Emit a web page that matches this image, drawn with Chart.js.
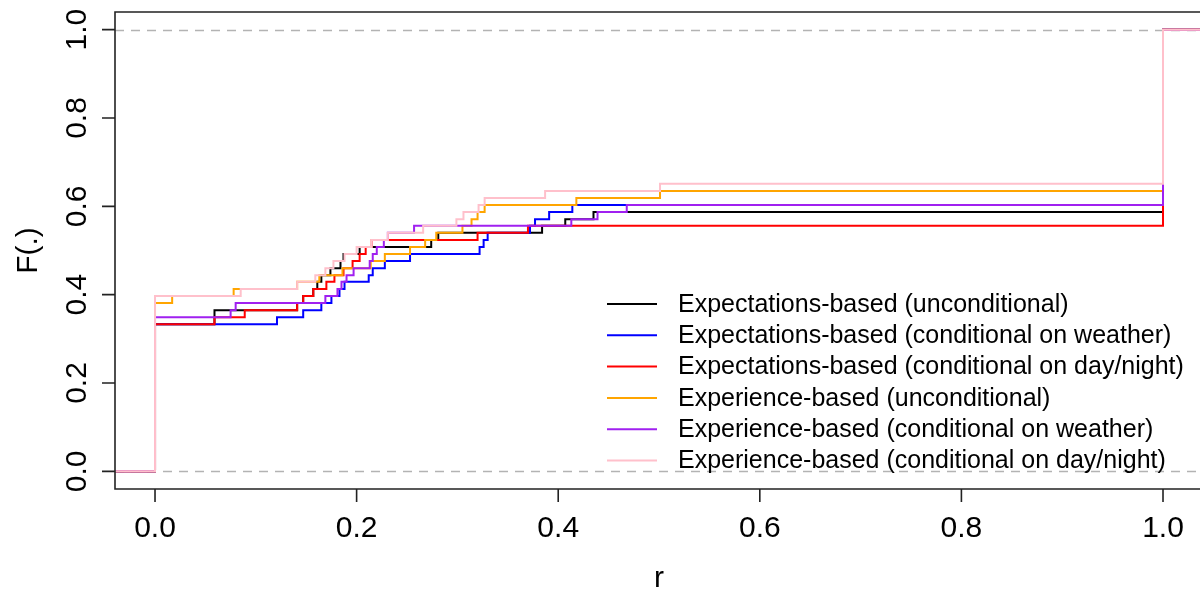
<!DOCTYPE html>
<html>
<head>
<meta charset="utf-8">
<script src="https://cdn.jsdelivr.net/npm/chart.js@4"></script>
<style>
  html, body { margin: 0; padding: 0; background: #fff; }
  #wrap { width: 1200px; height: 593px; }
</style>
</head>
<body>
<div id="wrap"><canvas id="ecdf" width="1200" height="593"></canvas></div>
<script>
// ECDFs of r, six groups. Each pair: jump locations / level reached there
var blackX = [0, 0.059, 0.141, 0.147, 0.157, 0.161, 0.165, 0.174, 0.184, 0.187, 0.203, 0.274, 0.281, 0.384, 0.407, 0.435, 1];
var blackY = [0.333, 0.365, 0.381, 0.397, 0.413, 0.429, 0.444, 0.460, 0.476, 0.492, 0.508, 0.524, 0.540, 0.556, 0.571, 0.587, 1];

var blueX = [0, 0.121, 0.147, 0.165, 0.175, 0.183, 0.188, 0.212, 0.216, 0.228, 0.253, 0.322, 0.326, 0.330, 0.372, 0.377, 0.391, 0.414, 1];
var blueY = [0.333, 0.349, 0.365, 0.381, 0.397, 0.413, 0.429, 0.444, 0.460, 0.476, 0.492, 0.508, 0.524, 0.540, 0.556, 0.571, 0.587, 0.603, 1];

var redX = [0, 0.059, 0.089, 0.141, 0.147, 0.157, 0.170, 0.178, 0.187, 0.196, 0.203, 0.209, 0.215, 0.320, 0.370, 1];
var redY = [0.333, 0.349, 0.365, 0.381, 0.397, 0.413, 0.429, 0.444, 0.460, 0.476, 0.492, 0.508, 0.524, 0.540, 0.556, 1];

var orangeX = [0, 0.017, 0.078, 0.141, 0.163, 0.186, 0.214, 0.228, 0.253, 0.268, 0.279, 0.305, 0.314, 0.320, 0.327, 0.418, 0.501, 1];
var orangeY = [0.381, 0.397, 0.413, 0.429, 0.444, 0.460, 0.476, 0.492, 0.508, 0.524, 0.540, 0.556, 0.571, 0.587, 0.603, 0.619, 0.635, 1];

var purpleX = [0, 0.075, 0.080, 0.169, 0.181, 0.185, 0.190, 0.197, 0.213, 0.216, 0.220, 0.227, 0.231, 0.257, 0.413, 0.439, 0.468, 1];
var purpleY = [0.349, 0.365, 0.381, 0.397, 0.413, 0.429, 0.444, 0.460, 0.476, 0.492, 0.508, 0.524, 0.540, 0.556, 0.571, 0.587, 0.603, 1];

var pinkX = [0, 0.085, 0.141, 0.159, 0.169, 0.177, 0.188, 0.200, 0.215, 0.231, 0.266, 0.299, 0.306, 0.321, 0.327, 0.387, 0.501, 1];
var pinkY = [0.397, 0.413, 0.429, 0.444, 0.460, 0.476, 0.492, 0.508, 0.524, 0.540, 0.556, 0.571, 0.587, 0.603, 0.619, 0.635, 0.651, 1];

var seriesNames = [
  "Expectations-based (unconditional)",
  "Expectations-based (conditional on weather)",
  "Expectations-based (conditional on day/night)",
  "Experience-based (unconditional)",
  "Experience-based (conditional on weather)",
  "Experience-based (conditional on day/night)"
];
var seriesColors = ["#000000", "#0000FF", "#FF0000", "#FFA500", "#A020F0", "#FFC0CB"];

var xTicks = [0, 0.2, 0.4, 0.6, 0.8, 1.0];
var xTickLabels = ["0.0", "0.2", "0.4", "0.6", "0.8", "1.0"];
var yTicks = [0, 0.2, 0.4, 0.6, 0.8, 1.0];
var yTickLabels = ["0.0", "0.2", "0.4", "0.6", "0.8", "1.0"];
var refLines = [0, 1];

// step function points: 0 to the left, 1 to the right
function steps(xs, ys) {
  var pts = [{ x: -0.1, y: 0 }];
  for (var i = 0; i < xs.length; i++) pts.push({ x: xs[i], y: ys[i] });
  pts.push({ x: 1.1, y: 1 });
  return pts;
}

var allX = [blackX, blueX, redX, orangeX, purpleX, pinkX];
var allY = [blackY, blueY, redY, orangeY, purpleY, pinkY];

var datasets = seriesNames.map(function (name, i) {
  return {
    label: name,
    data: steps(allX[i], allY[i]),
    borderColor: seriesColors[i],
    borderWidth: 2,
    stepped: "before",
    pointRadius: 0,
    fill: false,
    order: 6 - i // pink is drawn last, like R adds it last
  };
});

var FONT = '"Liberation Sans", Arial, sans-serif';

var rPlot = {
  id: "rPlot",
  beforeDatasetsDraw: function (chart) {
    var c = chart.ctx, a = chart.chartArea, ys = chart.scales.y;
    c.save();
    c.strokeStyle = "#B3B3B3";
    c.lineWidth = 1.5;
    c.setLineDash([9, 7]);
    refLines.forEach(function (v) {
      var py = Math.round(ys.getPixelForValue(v)) + 0.5;
      c.beginPath();
      c.moveTo(a.left, py);
      c.lineTo(a.right, py);
      c.stroke();
    });
    c.restore();
  },
  afterDraw: function (chart) {
    var c = chart.ctx, a = chart.chartArea;
    var xs = chart.scales.x, ys = chart.scales.y;
    c.save();
    c.strokeStyle = "#222";
    c.lineWidth = 1.6;
    // box: the right side falls just outside the picture
    c.beginPath();
    c.moveTo(a.right + 4, a.top);
    c.lineTo(a.left, a.top);
    c.lineTo(a.left, a.bottom);
    c.lineTo(a.right + 4, a.bottom);
    c.stroke();

    // axis ticks
    c.beginPath();
    xTicks.forEach(function (v) {
      var px = xs.getPixelForValue(v);
      c.moveTo(px, a.bottom);
      c.lineTo(px, a.bottom + 13);
    });
    yTicks.forEach(function (v) {
      var py = ys.getPixelForValue(v);
      c.moveTo(a.left, py);
      c.lineTo(a.left - 13, py);
    });
    c.stroke();

    c.fillStyle = "#000";
    c.font = "30px " + FONT;
    c.textAlign = "center";
    c.textBaseline = "alphabetic";
    xTicks.forEach(function (v, i) {
      c.fillText(xTickLabels[i], xs.getPixelForValue(v), 537);
    });
    yTicks.forEach(function (v, i) {
      c.save();
      c.translate(86, ys.getPixelForValue(v));
      c.rotate(-Math.PI / 2);
      c.fillText(yTickLabels[i], 0, 0);
      c.restore();
    });

    // axis titles
    c.fillText("r", (a.left + 1203) / 2, 587);
    c.save();
    c.translate(37, (a.top + a.bottom) / 2);
    c.rotate(-Math.PI / 2);
    c.fillText("F(.)", 0, 0);
    c.restore();

    // legend, bottom right without a frame
    c.font = "25px " + FONT;
    c.textAlign = "left";
    c.textBaseline = "middle";
    c.lineWidth = 2;
    seriesNames.forEach(function (name, i) {
      var yy = 304 + i * 31.3;
      c.strokeStyle = seriesColors[i];
      c.beginPath();
      c.moveTo(607, yy);
      c.lineTo(657, yy);
      c.stroke();
      c.fillStyle = "#000";
      c.fillText(name, 678, yy + 1);
    });
    c.restore();
  }
};

var ctx = document.getElementById("ecdf").getContext("2d");
var chart = new Chart(ctx, {
  type: "line",
  data: { datasets: datasets },
  options: {
    responsive: false,
    animation: false,
    devicePixelRatio: 1,
    events: [],
    layout: { padding: { left: 115, right: 0, top: 12, bottom: 104 } },
    scales: {
      x: { type: "linear", min: -0.0397, max: 1.0367, display: false },
      y: { type: "linear", min: -0.04, max: 1.04, display: false }
    },
    plugins: {
      legend: { display: false },
      tooltip: { enabled: false }
    }
  },
  plugins: [rPlot]
});
</script>
</body>
</html>
